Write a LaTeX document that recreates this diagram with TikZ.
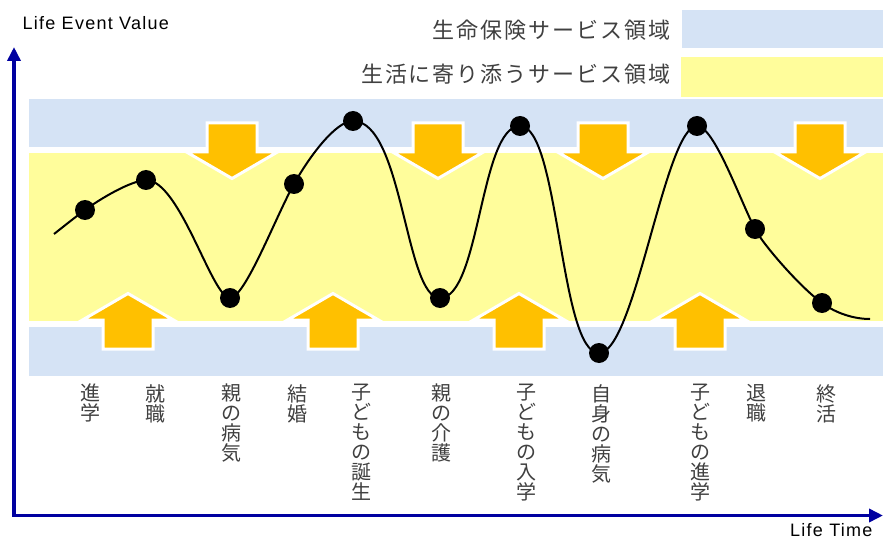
\documentclass[tikz,border=0pt]{standalone}
\usepackage{fontspec}
\setmainfont{Liberation Sans}
\newfontfamily\latinfont[LetterSpace=7]{Liberation Sans}
\newfontfamily\jpfont{Noto Sans CJK JP}
\newfontfamily\jplegend[LetterSpace=9]{Noto Sans CJK JP}
\usetikzlibrary{arrows.meta}
\definecolor{axisblue}{RGB}{0,0,160}
\definecolor{bandblue}{RGB}{213,227,245}
\definecolor{bandyellow}{RGB}{255,253,155}
\definecolor{arroworange}{RGB}{255,192,0}
\definecolor{textgray}{RGB}{64,64,64}
\tikzset{
  axisline/.style={draw=axisblue, line width=3.5pt, {Triangle[length=14pt,width=13pt]}-{Triangle[length=14pt,width=13pt]}},
  evdot/.style={circle, fill=black, minimum size=20pt, inner sep=0pt},
  evlabel/.style={anchor=north, inner sep=0pt, align=center, font=\jpfont\fontsize{20}{20}\selectfont, text=textgray},
  legendtext/.style={anchor=east, inner sep=0pt, font=\jplegend\fontsize{22}{24}\selectfont, text=textgray},
  axistext/.style={anchor=base west, inner sep=0pt, font=\latinfont\fontsize{18}{20}\selectfont, text=black},
  bigarrow/.style={fill=arroworange, draw=white, line width=3pt},
  lifecurve/.style={draw=black, line width=2pt},
  downarr/.pic={\path[bigarrow] (-25,-29) -- (25,-29) -- (25,0) -- (45.5,0) -- (0,26.5) -- (-45.5,0) -- (-25,0) -- cycle;},
  uparr/.pic={\path[bigarrow] (-25,29) -- (25,29) -- (25,0) -- (45.5,0) -- (0,-26.5) -- (-45.5,0) -- (-25,0) -- cycle;}
}
\begin{document}
\begin{tikzpicture}[x=1pt,y=-1pt]
\useasboundingbox (0,0) rectangle (883,540);
% bands
\fill[bandblue] (29,99) rectangle (883,376);
\fill[white] (29,147) rectangle (883,327);
\fill[bandyellow] (29,153) rectangle (883,320.5);
% legend
\fill[bandblue] (682,10) rectangle (883,48);
\fill[bandyellow] (681,57) rectangle (883,97);
\node[legendtext] (leg1) at (671,30) {生命保険サービス領域};
\node[legendtext] (leg2) at (671,74) {生活に寄り添うサービス領域};
% arrows
\pic at (232,152) {downarr};
\pic at (438,152) {downarr};
\pic at (603,152) {downarr};
\pic at (820,152) {downarr};
\pic at (128,320) {uparr};
\pic at (333,320) {uparr};
\pic at (519,320) {uparr};
\pic at (700,320) {uparr};
% curve points
\coordinate (c0) at (54,234);
\coordinate (p1) at (85,210);
\coordinate (p2) at (146,180);
\coordinate (p3) at (230,298);
\coordinate (p4) at (294,184);
\coordinate (p5) at (353,121);
\coordinate (p6) at (440,298);
\coordinate (p7) at (520,126);
\coordinate (p8) at (599,353);
\coordinate (p9) at (697,126);
\coordinate (p10) at (755,229);
\coordinate (p11) at (822,303);
\coordinate (c12) at (870,319);
\draw[lifecurve] (c0) .. controls (63,227) and (74,218) .. (p1)
  .. controls (100,199) and (130,181) .. (p2)
  .. controls (180,180) and (212,298) .. (p3)
  .. controls (245,298) and (276,216) .. (p4)
  .. controls (310,155.5) and (336,121) .. (p5)
  .. controls (403,121) and (405,298) .. (p6)
  .. controls (480,298) and (480,126) .. (p7)
  .. controls (559.5,126) and (559.5,353) .. (p8)
  .. controls (635,353) and (665,126) .. (p9)
  .. controls (714,126) and (740,200) .. (p10)
  .. controls (763,244.5) and (800,287) .. (p11)
  .. controls (837,314) and (855,319) .. (c12);
\foreach \p in {p1,p2,p3,p4,p5,p6,p7,p8,p9,p10,p11}
  \node[evdot] (d\p) at (\p) {};
% labels
\node[evlabel] (l1) at (90.5,384) {進\\学};
\node[evlabel] (l2) at (155.5,384) {就\\職};
\node[evlabel] (l3) at (231,384) {親\\の\\病\\気};
\node[evlabel] (l4) at (297,384) {結\\婚};
\node[evlabel] (l5) at (361.7,384) {子\\ど\\も\\の\\誕\\生};
\node[evlabel] (l6) at (441,384) {親\\の\\介\\護};
\node[evlabel] (l7) at (526,384) {子\\ど\\も\\の\\入\\学};
\node[evlabel] (l8) at (601.7,384) {自\\身\\の\\病\\気};
\node[evlabel] (l9) at (700,384) {子\\ど\\も\\の\\進\\学};
\node[evlabel] (l10) at (756.7,384) {退\\職};
\node[evlabel] (l11) at (826,384) {終\\活};
% axes
\coordinate (origin) at (14,515.5);
\coordinate (ytop) at (14,47);
\coordinate (xend) at (883,515.5);
\draw[axisline] (ytop) -- (origin) -- (xend);
\node[axistext] (ylab) at (22.5,29.3) {Life Event Value};
\node[axistext] (xlab) at (790,536.3) {Life Time};
\end{tikzpicture}
\end{document}
